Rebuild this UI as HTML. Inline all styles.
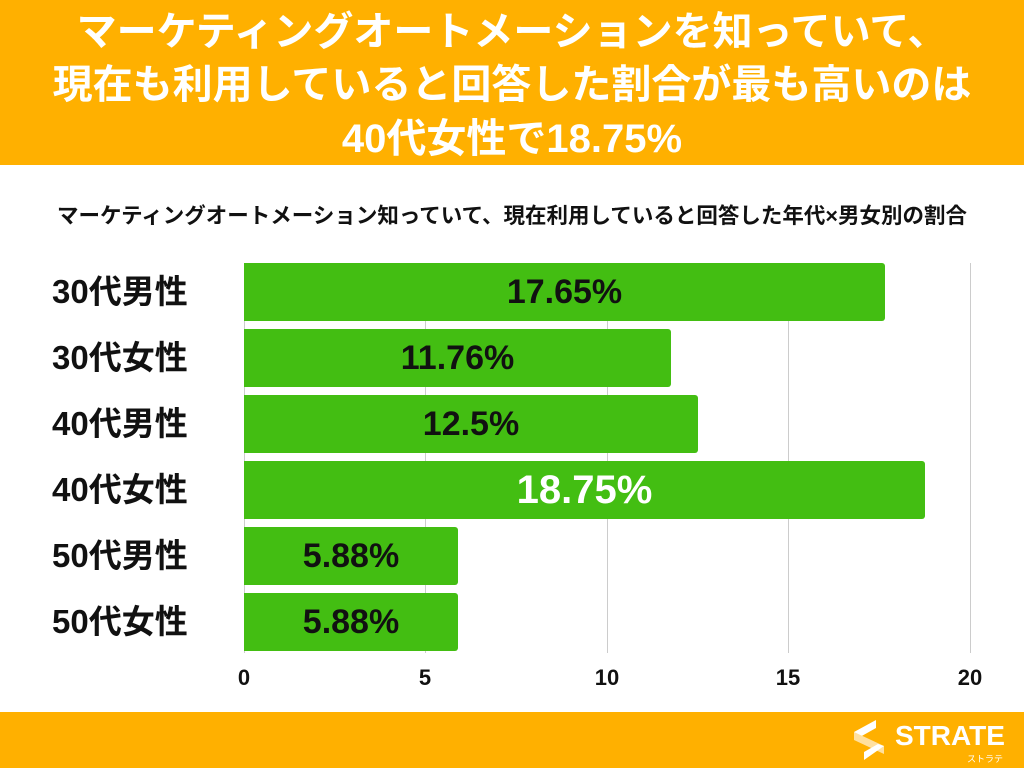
<!DOCTYPE html>
<html><head><meta charset="utf-8"><style>
body{margin:0;width:1024px;height:768px;background:#fff;position:relative;overflow:hidden;font-family:"Liberation Sans","Noto Sans CJK JP",sans-serif;}
.hdr{position:absolute;left:0;top:0;width:1024px;height:165px;background:#FFB000;}
.t{position:absolute;left:0;width:1024px;text-align:center;color:#fff;font-weight:bold;font-size:40px;line-height:46px;white-space:nowrap;}
.sub{position:absolute;left:0;width:1024px;top:199px;text-align:center;font-weight:bold;font-size:21.5px;color:#111;white-space:nowrap;}
.ftr{position:absolute;left:0;top:712px;width:1024px;height:56px;background:#FFB000;}
.grid{position:absolute;top:263px;height:390px;width:1px;background:#ccc;}
.bar{position:absolute;left:244px;height:58px;background:#43BE12;border-radius:0 3px 3px 0;}
.val{position:absolute;font-weight:bold;font-size:34px;color:#111;text-align:center;line-height:58px;}
.lab{position:absolute;left:52px;font-weight:bold;font-size:33px;color:#111;line-height:58px;}
.tick{position:absolute;top:665px;font-weight:bold;font-size:22px;color:#111;width:40px;text-align:center;}
</style></head><body>
<div class="hdr"></div>
<div class="t" style="top:9px">マーケティングオートメーションを知っていて、</div>
<div class="t" style="top:62px">現在も利用していると回答した割合が最も高いのは</div>
<div class="t" style="top:116px">40代女性で18.75%</div>
<div class="sub">マーケティングオートメーション知っていて、現在利用していると回答した年代×男女別の割合</div>
<div class="grid" style="left:244px"></div>
<div class="grid" style="left:425px"></div>
<div class="grid" style="left:607px"></div>
<div class="grid" style="left:788px"></div>
<div class="grid" style="left:970px"></div>

<div class="bar" style="top:263px;width:641px"></div>
<div class="bar" style="top:329px;width:427px"></div>
<div class="bar" style="top:395px;width:454px"></div>
<div class="bar" style="top:461px;width:681px"></div>
<div class="bar" style="top:527px;width:214px"></div>
<div class="bar" style="top:593px;width:214px"></div>

<div class="val" style="top:263px;left:244px;width:641px">17.65%</div>
<div class="val" style="top:329px;left:244px;width:427px">11.76%</div>
<div class="val" style="top:395px;left:244px;width:454px">12.5%</div>
<div class="val" style="top:461px;left:244px;width:681px;color:#fff;font-size:40px">18.75%</div>
<div class="val" style="top:527px;left:244px;width:214px">5.88%</div>
<div class="val" style="top:593px;left:244px;width:214px">5.88%</div>

<div class="lab" style="top:263px">30代男性</div>
<div class="lab" style="top:329px">30代女性</div>
<div class="lab" style="top:395px">40代男性</div>
<div class="lab" style="top:461px">40代女性</div>
<div class="lab" style="top:527px">50代男性</div>
<div class="lab" style="top:593px">50代女性</div>

<div class="tick" style="left:224px">0</div>
<div class="tick" style="left:405px">5</div>
<div class="tick" style="left:587px">10</div>
<div class="tick" style="left:768px">15</div>
<div class="tick" style="left:950px">20</div>

<div class="ftr"></div>
<svg style="position:absolute;left:850px;top:718px" width="40" height="44" viewBox="0 0 40 44">
<polygon points="4,14 26,2 26,10 10,19" fill="#fff"/>
<polygon points="4,14 34,28 34,36 4,22" fill="#FFE0A0"/>
<polygon points="34,28 14,42 14,34 28,26" fill="#fff"/>
</svg>
<div style="position:absolute;left:895px;top:720px;color:#fff;font-weight:bold;font-size:28px;">STRATE</div>
<div style="position:absolute;left:967px;top:752px;color:#fff;font-size:9px">ストラテ</div>
</body></html>
